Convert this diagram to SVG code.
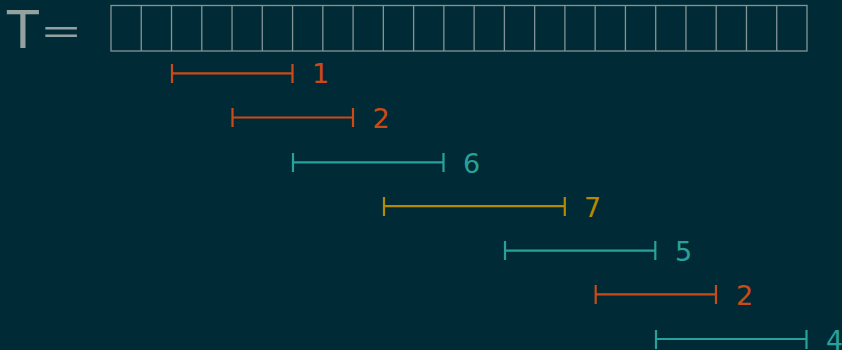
<svg xmlns="http://www.w3.org/2000/svg" width="842" height="350" viewBox="0 0 842 350">
<style>
.lbl{font-family:"DejaVu Sans",sans-serif;font-size:27px}
.o{stroke:#cb4b16;fill:#cb4b16}
.t{stroke:#2aa198;fill:#2aa198}
.y{stroke:#b58900;fill:#b58900}
.iv path{stroke-width:2.2;fill:none}
.iv text{stroke:none}
.grid{stroke:#839496;stroke-width:1.3;fill:none}
</style>
<rect width="842" height="350" fill="#002b36"/>
<g id="title">
<text x="7" y="48" font-family="'DejaVu Sans',sans-serif" font-size="52" fill="#93a1a1">T</text>
<text transform="translate(44,31) scale(1.3,0.69)" x="-2" y="19.6" font-family="'Open Sans',sans-serif" font-size="53" fill="#93a1a1">=</text>
</g>
<g id="array" class="grid">
<rect x="111" y="5.5" width="696" height="45.5"/>
<path d="M141.26 5.5V51M171.52 5.5V51M201.78 5.5V51M232.04 5.5V51M262.3 5.5V51M292.57 5.5V51M322.83 5.5V51M353.09 5.5V51M383.35 5.5V51M413.61 5.5V51M443.87 5.5V51M474.13 5.5V51M504.39 5.5V51M534.65 5.5V51M564.91 5.5V51M595.17 5.5V51M625.43 5.5V51M655.7 5.5V51M685.96 5.5V51M716.22 5.5V51M746.48 5.5V51M776.74 5.5V51"/>
</g>
<g id="connectors">
<g id="iv1" class="iv o"><path d="M172 64V83M172 73.3H292.5M292.5 64V83"/><text class="lbl" x="312" y="83">1</text></g>
<g id="iv2" class="iv o"><path d="M232.5 108V127M232.5 117.5H353M353 108V127"/><text class="lbl" x="372.5" y="127.5">2</text></g>
<g id="iv3" class="iv t"><path d="M293 153V172M293 162.3H443.5M443.5 153V172"/><text class="lbl" x="463" y="172.5">6</text></g>
<g id="iv4" class="iv y"><path d="M384 197V216M384 206.2H564.8M564.8 197V216"/><text class="lbl" x="584" y="216.5">7</text></g>
<g id="iv5" class="iv t"><path d="M505 241V260M505 250.6H655.3M655.3 241V260"/><text class="lbl" x="675" y="261">5</text></g>
<g id="iv6" class="iv o"><path d="M595.7 285V304M595.7 294.4H716M716 285V304"/><text class="lbl" x="736" y="305">2</text></g>
<g id="iv7" class="iv t"><path d="M656 330V349M656 339H806.5M806.5 330V349"/><text class="lbl" x="826" y="349.5">4</text></g>
</g>
</svg>
